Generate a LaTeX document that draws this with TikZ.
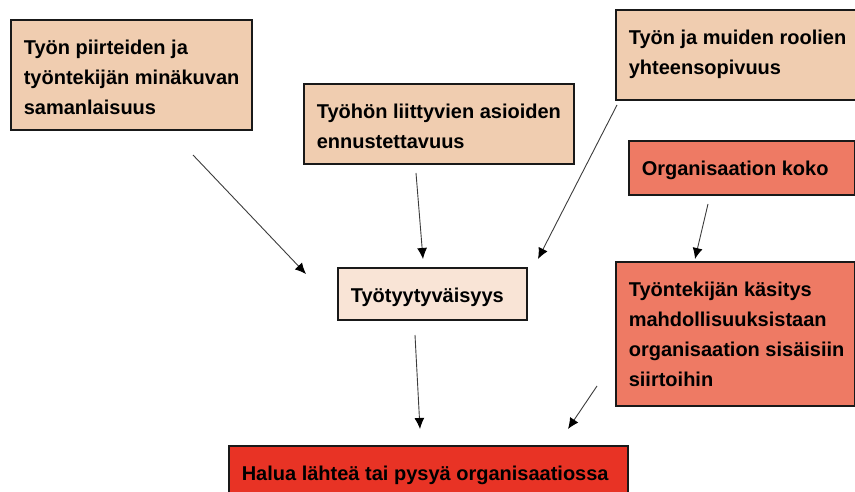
\documentclass[tikz,border=0pt]{standalone}
\usepackage{fontspec}
\setmainfont{Liberation Sans}
\usetikzlibrary{arrows.meta}
\definecolor{peach}{HTML}{F0CDB0}
\definecolor{lightpeach}{HTML}{F9E4D6}
\definecolor{salmon}{HTML}{EE7A64}
\definecolor{redbox}{HTML}{E83325}
\definecolor{arrowgray}{HTML}{3C3C3C}
\newcommand{\bxt}[3]{\begin{minipage}[t][#2][t]{#1}\raggedright\leftskip=13pt\relax\parindent=0pt\fontsize{20pt}{30pt}\selectfont\bfseries\vspace*{19pt}\rule{0pt}{16pt}#3\par\end{minipage}}
\tikzset{
  fbox/.style={draw=black!90, line width=1.6pt, inner sep=0pt, anchor=north west},
  conn/.style={draw=arrowgray, line width=0.9pt, -{Latex[length=11pt,width=10pt,color=black]}}
}
\begin{document}
\begin{tikzpicture}[x=1pt,y=-1pt]
\useasboundingbox (0,0) rectangle (855,492);
\clip (0,0) rectangle (855,492);
\node[fbox, fill=peach] (piirteet) at (10,19) {\bxt{241pt}{110pt}{Työn piirteiden ja\\ työntekijän minäkuvan\\ samanlaisuus}};
\node[fbox, fill=peach] (roolit) at (615,9) {\bxt{262pt}{90pt}{Työn ja muiden roolien\\ yhteensopivuus}};
\node[fbox, fill=peach] (ennuste) at (303,83) {\bxt{270pt}{80pt}{Työhön liittyvien asioiden\\ ennustettavuus}};
\node[fbox, fill=lightpeach] (tyytyv) at (337,267) {\bxt{189pt}{52pt}{Työtyytyväisyys}};
\node[fbox, fill=salmon] (koko) at (628,140) {\bxt{226pt}{54pt}{Organisaation koko}};
\node[fbox, fill=salmon] (kasitys) at (615,261) {\bxt{239pt}{144pt}{Työntekijän käsitys\\ mahdollisuuksistaan\\ organisaation sisäisiin\\ siirtoihin}};
\node[fbox, fill=redbox] (halua) at (228,445) {\bxt{399pt}{70pt}{Halua lähteä tai pysyä organisaatiossa}};
\coordinate (a1s) at (193,155); \coordinate (a1e) at (306,274);
\coordinate (a2s) at (416,173); \coordinate (a2e) at (423,259);
\coordinate (a3s) at (617,105); \coordinate (a3e) at (538,259);
\coordinate (a4s) at (708,204); \coordinate (a4e) at (695,259);
\coordinate (a5s) at (415,335); \coordinate (a5e) at (420,429);
\coordinate (a6s) at (597,386); \coordinate (a6e) at (568,429);
\draw[conn] (a1s) -- (a1e);
\draw[conn] (a2s) -- (a2e);
\draw[conn] (a3s) -- (a3e);
\draw[conn] (a4s) -- (a4e);
\draw[conn] (a5s) -- (a5e);
\draw[conn] (a6s) -- (a6e);
\end{tikzpicture}
\end{document}
